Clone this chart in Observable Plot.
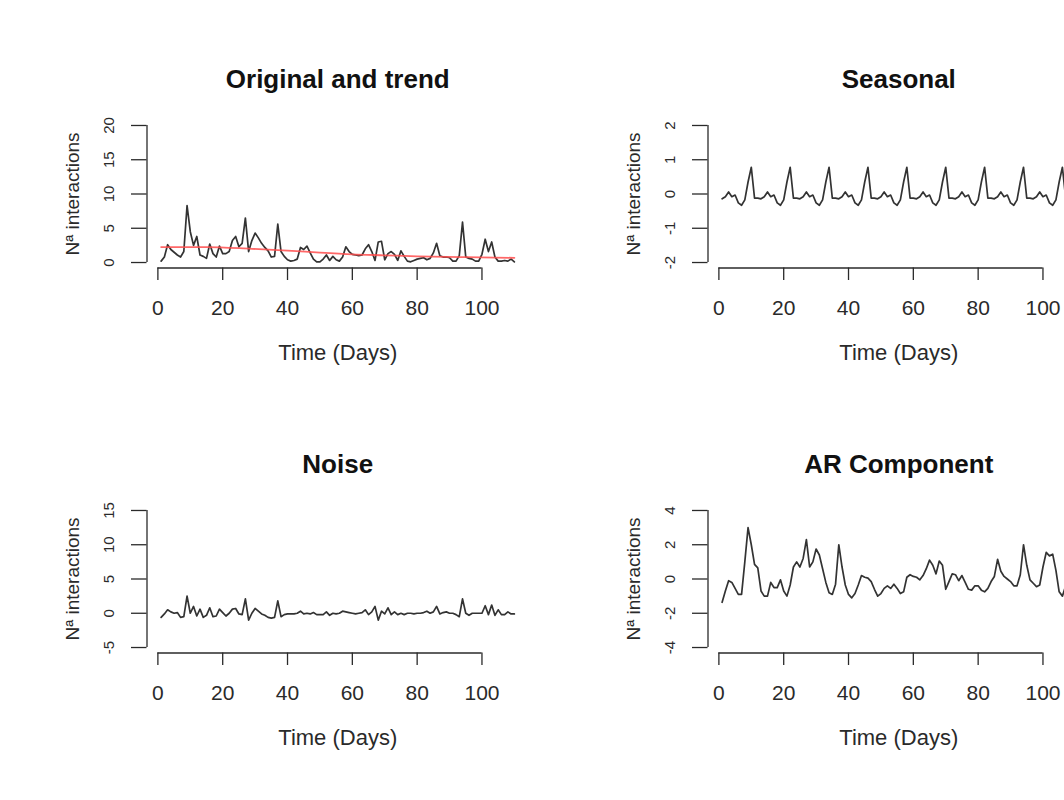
<!DOCTYPE html>
<html>
<head>
<meta charset="utf-8">
<script src="https://cdn.jsdelivr.net/npm/d3@7"></script>
<script src="https://cdn.jsdelivr.net/npm/@observablehq/plot@0.6"></script>
<style>
html, body { margin: 0; padding: 0; background: #fff; overflow: hidden; }
#wrap { position: relative; width: 1064px; height: 800px; overflow: hidden; background: #fff; }
.cell { position: absolute; width: 560px; height: 385px; }
.cell svg { max-width: none !important; }
</style>
</head>
<body>
<div id="wrap"></div>
<script>
// ---------- text ----------
const titles = ["Original and trend", "Seasonal", "Noise", "AR Component"];
const xLabel = "Time (Days)";
const yLabel = "Nª interactions";

// ---------- ticks ----------
const xTicks = [0, 20, 40, 60, 80, 100];
const yTicksOriginal = [0, 5, 10, 15, 20];
const yTicksSeasonal = [-2, -1, 0, 1, 2];
const yTicksNoise = [-5, 0, 5, 10, 15];
const yTicksAR = [-4, -2, 0, 2, 4];

// ---------- series (day 1 .. 110) ----------
const original = [
  0.2, 0.8, 2.6, 1.9, 1.5, 1.1, 0.8, 1.6, 8.3, 4.5,
  2.5, 3.8, 1.1, 0.9, 0.6, 2.7, 1.3, 0.8, 2.4, 1.3,
  1.3, 1.6, 3.2, 3.8, 2.3, 2.8, 6.5, 1.6, 3.2, 4.3,
  3.6, 2.8, 2.2, 1.7, 0.8, 0.9, 5.6, 1.6, 0.9, 0.4,
  0.2, 0.3, 0.5, 2.2, 1.9, 2.4, 1.4, 0.5, 0.1, 0.1,
  0.5, 1.1, 0.3, 0.9, 0.4, 0.2, 0.8, 2.3, 1.6, 1.2,
  1.1, 1.0, 1.1, 2.0, 2.6, 1.6, 0.3, 3.0, 3.1, 0.4,
  1.3, 1.6, 1.2, 0.3, 1.7, 0.9, 0.2, 0.1, 0.3, 0.5,
  0.6, 0.7, 0.4, 0.6, 1.4, 2.8, 1.0, 0.8, 0.8, 0.7,
  0.2, 0.2, 1.0, 5.9, 0.8, 0.6, 0.5, 0.2, 0.2, 1.2,
  3.4, 1.6, 3.0, 0.8, 0.2, 0.2, 0.3, 0.2, 0.5, 0.1
];
const trendDays = [1, 15, 29, 40, 50, 60, 70, 80, 95, 110];
const trendValues = [2.25, 2.25, 2.0, 1.75, 1.45, 1.2, 1.05, 0.9, 0.78, 0.68];

const seasonal = [
  -0.14, -0.08, 0.06, -0.08, -0.03, -0.26, -0.33, -0.17, 0.35, 0.78, -0.12, -0.12,
  -0.14, -0.08, 0.06, -0.08, -0.03, -0.26, -0.33, -0.17, 0.35, 0.78, -0.12, -0.12,
  -0.14, -0.08, 0.06, -0.08, -0.03, -0.26, -0.33, -0.17, 0.35, 0.78, -0.12, -0.12,
  -0.14, -0.08, 0.06, -0.08, -0.03, -0.26, -0.33, -0.17, 0.35, 0.78, -0.12, -0.12,
  -0.14, -0.08, 0.06, -0.08, -0.03, -0.26, -0.33, -0.17, 0.35, 0.78, -0.12, -0.12,
  -0.14, -0.08, 0.06, -0.08, -0.03, -0.26, -0.33, -0.17, 0.35, 0.78, -0.12, -0.12,
  -0.14, -0.08, 0.06, -0.08, -0.03, -0.26, -0.33, -0.17, 0.35, 0.78, -0.12, -0.12,
  -0.14, -0.08, 0.06, -0.08, -0.03, -0.26, -0.33, -0.17, 0.35, 0.78, -0.12, -0.12,
  -0.14, -0.08, 0.06, -0.08, -0.03, -0.26, -0.33, -0.17, 0.35, 0.78, -0.12, -0.12,
  -0.14, -0.08
];

const noise = [
  -0.6, -0.1, 0.5, 0.2, 0.0, 0.1, -0.6, -0.5, 2.5, 0.0,
  1.0, -0.4, 0.6, -0.6, -0.3, 0.8, -0.5, -0.4, 0.6, 0.1,
  -0.4, 0.0, 0.6, 0.7, -0.1, -0.2, 2.1, -1.0, 0.0, 0.7,
  0.3, -0.1, -0.3, -0.6, -0.7, -0.6, 1.8, -0.5, -0.2, -0.1,
  -0.1, -0.1, 0.0, 0.3, -0.1, 0.0, -0.1, 0.1, -0.2, -0.2,
  -0.2, 0.2, -0.3, 0.0, -0.1, 0.0, 0.3, 0.2, 0.1, 0.0,
  -0.1, 0.0, 0.1, 0.5, -0.2, 0.2, 1.0, -1.0, 0.3, -0.1,
  0.8, -0.2, 0.2, -0.2, 0.0, -0.2, 0.0, 0.0, -0.1, 0.0,
  0.0, 0.1, 0.3, 0.0, 0.2, 1.0, -0.1, 0.1, 0.2, 0.0,
  0.0, -0.2, -0.5, 2.1, 0.0, -0.3, 0.0, 0.0, 0.0, 0.0,
  1.1, -0.2, 1.2, -0.3, 0.5, -0.2, -0.2, 0.2, -0.1, -0.1
];

const arComponent = [
  -1.36, -0.7, -0.1, -0.2, -0.55, -0.9, -0.9, 1.0, 3.0, 2.0,
  0.85, 0.65, -0.7, -1.0, -1.0, -0.2, -0.5, -0.5, -0.05, -0.7,
  -1.0, -0.35, 0.7, 1.0, 0.7, 1.2, 2.3, 0.7, 1.0, 1.75,
  1.4, 0.6, -0.2, -0.8, -0.9, -0.3, 2.0, 0.7, -0.35, -0.9,
  -1.1, -0.85, -0.35, 0.2, 0.1, 0.05, -0.15, -0.6, -1.0, -0.85,
  -0.55, -0.4, -0.55, -0.3, -0.55, -0.85, -0.75, 0.1, 0.25, 0.15,
  0.1, -0.05, 0.2, 0.6, 1.1, 0.8, 0.3, 1.05, 0.8, -0.6,
  -0.15, 0.3, 0.25, -0.1, 0.2, -0.2, -0.6, -0.65, -0.4, -0.4,
  -0.65, -0.75, -0.55, -0.15, 0.15, 1.15, 0.45, 0.15, 0.0, -0.15,
  -0.4, -0.4, 0.25, 2.0, 0.8, -0.05, -0.25, -0.45, -0.35, 0.7,
  1.55, 1.35, 1.45, 0.5, -0.75, -1.0, -0.4, -0.3, -0.2, -0.3
];

// ---------- drawing ----------
const FONT = '"Liberation Sans", Arial, Helvetica, sans-serif';
const INK = "#2a2a2a";
const CELL_W = 560, CELL_H = 385;

function toRows(values) {
  return values.map((v, i) => ({day: i + 1, value: v}));
}

function panel(title, yTicks, series, extraMarks = []) {
  const n = series.length;
  const xPad = 0.04 * (n - 1);
  const yMin = yTicks[0], yMax = yTicks[yTicks.length - 1];
  const yPad = 0.04 * (yMax - yMin);
  const xDomain = [1 - xPad, n + xPad];
  const yDomain = [yMin - yPad, yMax + yPad];
  return Plot.plot({
    width: CELL_W,
    height: CELL_H,
    marginLeft: 146.5,
    marginRight: 32,
    marginTop: 119.5,
    marginBottom: 117.5,
    x: {domain: xDomain, label: null},
    y: {domain: yDomain, label: null},
    style: {fontFamily: FONT, background: "white", color: INK, overflow: "visible"},
    marks: [
      Plot.ruleY([yDomain[0]], {x1: xTicks[0], x2: xTicks[xTicks.length - 1], stroke: INK, strokeWidth: 1.3}),
      Plot.ruleX([xDomain[0]], {y1: yMin, y2: yMax, stroke: INK, strokeWidth: 1.3}),
      Plot.axisX(xTicks, {tickSize: 12.5, tickPadding: 20, fontSize: 21, label: null, strokeWidth: 1.3, tickFormat: d => String(d)}),
      Plot.axisY(yTicks, {tickSize: 15.5, tickPadding: 18, tickRotate: -90, fontSize: 15, label: null, strokeWidth: 1.3, tickFormat: d => String(d)}),
      Plot.line(toRows(series), {x: "day", y: "value", stroke: "#333", strokeWidth: 1.7}),
      ...extraMarks,
      Plot.text([title], {frameAnchor: "top", dy: -50.5, fontSize: 26, fontWeight: "bold", fill: "#111"}),
      Plot.text([xLabel], {frameAnchor: "bottom", dy: 91.5, fontSize: 22, fill: INK}),
      Plot.text([yLabel], {frameAnchor: "left", textAnchor: "middle", dx: -74.5, rotate: -90, fontSize: 19, fill: INK})
    ]
  });
}

const trendRows = trendDays.map((d, i) => ({day: d, value: trendValues[i]}));

const panels = [
  {left: 0, top: 0, chart: panel(titles[0], yTicksOriginal, original, [
    Plot.line(trendRows, {x: "day", y: "value", stroke: "#ff4d4d", strokeOpacity: 0.85, strokeWidth: 1.8, curve: "monotone-x"})
  ])},
  {left: 560.6, top: 0, chart: panel(titles[1], yTicksSeasonal, seasonal)},
  {left: 0, top: 385, chart: panel(titles[2], yTicksNoise, noise)},
  {left: 560.6, top: 385, chart: panel(titles[3], yTicksAR, arComponent)}
];

const wrap = document.getElementById("wrap");
for (const p of panels) {
  const div = document.createElement("div");
  div.className = "cell";
  div.style.left = p.left + "px";
  div.style.top = p.top + "px";
  div.appendChild(p.chart);
  wrap.appendChild(div);
}
</script>
</body>
</html>
